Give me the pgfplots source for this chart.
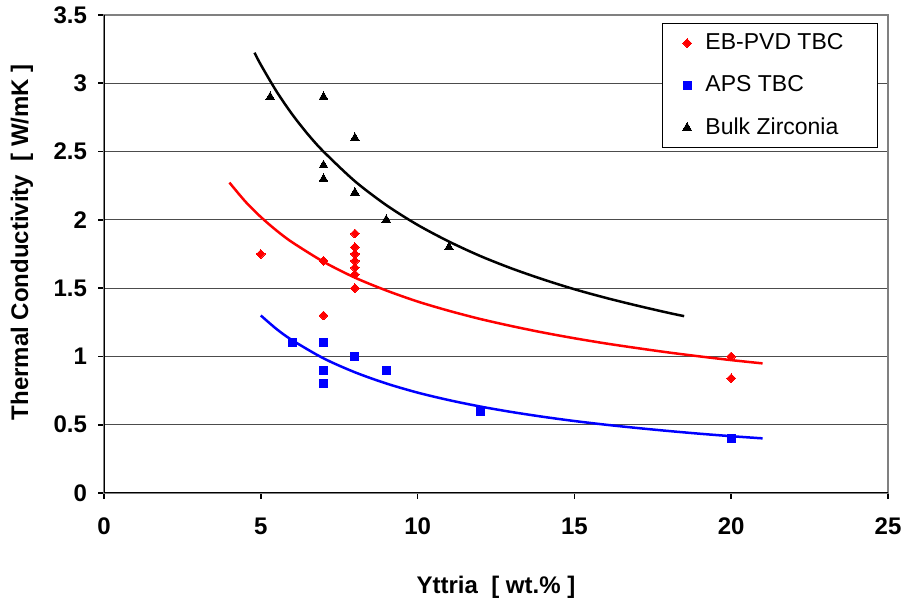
\documentclass[border=0pt]{standalone}
\usepackage{fontspec}
\setmainfont{Liberation Sans}
\usepackage{pgfplots}
\pgfplotsset{compat=1.18}
\begin{document}
\begin{tikzpicture}
\begin{axis}[
  scale only axis,
  width=392pt, height=239pt,
  xmin=0, xmax=25, ymin=0, ymax=3.5,
  xtick={0,5,10,15,20,25},
  ytick={0,0.5,1,1.5,2,2.5,3,3.5},
  /pgf/number format/assume math mode=true,
  tick label style={font=\bfseries\fontsize{12}{14}\selectfont, black},
  xticklabel style={yshift=-6pt},
  yticklabel style={xshift=-2pt},
  tick align=outside,
  xtick pos=bottom, ytick pos=left,
  major tick length=3pt,
  tick style={black, line width=0.8pt},
  ymajorgrids,
  major grid style={black!70, line width=0.5pt},
  axis line style={black!50, line width=0.6pt},
  xlabel={Yttria\ \ [ wt.\% ]},
  ylabel={Thermal Conductivity\ \ [ W/mK ]},
  label style={font=\bfseries\fontsize{12}{14}\selectfont},
  xlabel style={at={(axis description cs:0.5,-0.1966)}, anchor=center},
  ylabel style={at={(axis description cs:-0.1046,0.525)}, anchor=center, rotate=0},
  legend style={at={(axis description cs:0.712,0.983)}, anchor=north west,
    draw=black, line width=0.5pt, fill=white,
    font=\fontsize{11.5}{13}\selectfont, row sep=7.5pt,
    inner ysep=3pt, inner xsep=10pt},
  legend cell align=left,
]
\coordinate (O) at (rel axis cs:0,0);
% trend lines
\addplot[black, line width=1.25pt, smooth, forget plot] coordinates {
 (4.8,3.224) (5,3.136) (5.5,2.941) (6,2.773) (6.5,2.627) (7,2.50) (8,2.283)
 (9,2.108) (10,1.963) (11,1.841) (12,1.735) (13,1.644) (14,1.564) (15,1.492)
 (16,1.429) (17,1.372) (18,1.319) (18.5,1.295)};
\addplot[red, line width=1.25pt, smooth, forget plot] coordinates {
 (4,2.273) (4.5,2.136) (5,2.021) (5.5,1.922) (6,1.836) (7,1.693) (8,1.577)
 (9,1.483) (10,1.402) (11,1.334) (12,1.274) (13,1.222) (14,1.175) (15,1.133)
 (16,1.095) (17,1.061) (18,1.029) (19,1.000) (20,0.973) (21,0.949)};
\addplot[blue, line width=1.25pt, smooth, forget plot] coordinates {
 (5,1.300) (5.5,1.201) (6,1.119) (7,0.986) (8,0.884) (9,0.802) (10,0.735)
 (11,0.680) (12,0.633) (13,0.593) (14,0.558) (15,0.527) (16,0.500) (17,0.476)
 (18,0.454) (19,0.434) (20,0.416) (21,0.400)};
% data
\addplot[only marks, mark=square*, mark size=1.55pt, color=red,
  mark options={fill=red, draw=red, line width=0pt, rotate=45}] coordinates {
 (5,1.75) (7,1.70) (7,1.30) (8,1.90) (8,1.80) (8,1.75) (8,1.70) (8,1.65)
 (8,1.60) (8,1.50) (20,1.00) (20,0.84)};
\addlegendentry{\makebox[79pt][l]{\hspace*{5pt}EB-PVD TBC}}
\addplot[only marks, mark=square*, mark size=2pt, color=blue,
  mark options={fill=blue, draw=blue, line width=0pt}] coordinates {
 (6,1.10) (7,1.10) (7,0.90) (7,0.80) (8,1.00) (9,0.90) (12,0.60) (20,0.40)};
\addlegendentry{\makebox[79pt][l]{\hspace*{5pt}APS TBC}}
\addplot[only marks, mark=triangle*, mark size=2.5pt, color=black,
  mark options={fill=black, draw=black, line width=0pt}] coordinates {
 (5.3,2.90) (7,2.90) (7,2.40) (7,2.30) (8,2.60) (8,2.20) (9,2.00) (11,1.80)};
\addlegendentry{\makebox[79pt][l]{\hspace*{5pt}Bulk Zirconia}}
\draw[black, line width=1pt] (rel axis cs:0,1) -- (rel axis cs:0,0) -- (rel axis cs:1,0);
\end{axis}
\pgfresetboundingbox
\path (O) ++(-52pt,-57.5pt) rectangle ++(454.5pt,304pt);
\end{tikzpicture}
\end{document}
